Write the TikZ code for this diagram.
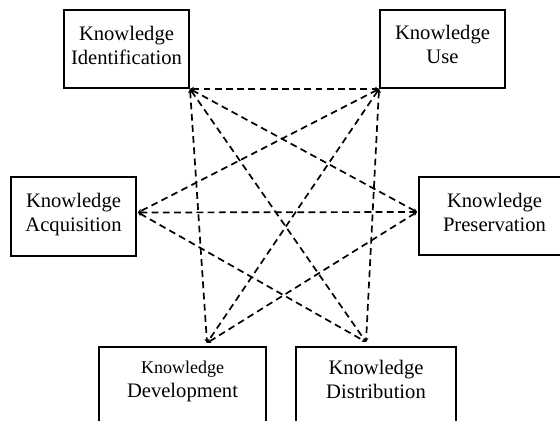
\documentclass[tikz,border=0pt]{standalone}
\usepackage{fontspec}
\setmainfont{Liberation Serif}
\usetikzlibrary{arrows.meta,calc}
\tikzset{
  box/.style={draw=black, line width=1pt, rectangle, inner sep=0pt, fill=none},
  lbl/.style={inner sep=0pt, align=center, anchor=north, font=\fontsize{10.3}{12}\selectfont},
  link/.style={draw=black, line width=0.85pt, dash pattern=on 3.4pt off 2.2pt,
    {Stealth[length=2pt,width=2.2pt]}-{Stealth[length=2pt,width=2.2pt]}}
}
\begin{document}
\begin{tikzpicture}[x=0.5pt,y=-0.5pt]
\useasboundingbox (0,0) rectangle (560,421);
\clip (0,0) rectangle (560,421);
\fill[white] (0,0) rectangle (560,421);
% boxes
\node[box, minimum width=62.5pt, minimum height=39pt] (ki) at (126.5,49) {};
\node[box, minimum width=62.5pt, minimum height=39pt] (ku) at (442.5,49) {};
\node[box, minimum width=62.5pt, minimum height=39.5pt] (ka) at (73.5,216.5) {};
\node[box, minimum width=75.5pt, minimum height=39pt] (kp) at (494.5,216) {};
\node[box, minimum width=83.5pt, minimum height=50pt, anchor=north] (kd) at (182.5,346) {};
\node[box, minimum width=80pt, minimum height=50pt, anchor=north] (ks) at (376,346) {};
% labels
\node[lbl] (kit) at (126.5,26) {Knowledge\\Identification};
\node[lbl] (kut) at (442.5,25) {Knowledge\\Use};
\node[lbl] (kat) at (73.5,193) {Knowledge\\Acquisition};
\node[lbl] (kpt) at (494.5,193) {Knowledge\\Preservation};
\node[lbl] (kdt) at (182.5,361) {{\fontsize{9}{12}\selectfont Knowledge}\\Development};
\node[lbl] (kst) at (376,360) {Knowledge\\Distribution};
% connection points
\coordinate (pI) at (ki.south east);
\coordinate (pU) at (ku.south west);
\coordinate (pA) at ($(ka.east)+(1,-4)$);
\coordinate (pP) at ($(kp.west)+(-1,-4)$);
\coordinate (pD) at ($(kd.north)+(24.5,-3)$);
\coordinate (pS) at ($(ks.north)+(-10,-4)$);
% connectors
\draw[link] (pI) -- (pU);
\draw[link] (pI) -- (pP);
\draw[link] (pI) -- (pD);
\draw[link] (pI) -- (pS);
\draw[link] (pU) -- (pA);
\draw[link] (pU) -- (pD);
\draw[link] (pU) -- (pS);
\draw[link] (pA) -- (pP);
\draw[link] (pA) -- (pS);
\draw[link] (pP) -- (pD);
\end{tikzpicture}
\end{document}
